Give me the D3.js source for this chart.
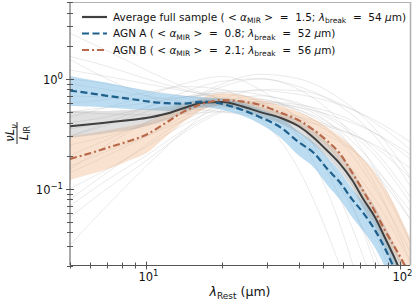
<!DOCTYPE html>
<html><head><meta charset="utf-8">
<script src="https://cdn.jsdelivr.net/npm/d3@7"></script>
<style>
html,body{margin:0;padding:0;background:#fff;}
svg{display:block;font-family:"DejaVu Sans",sans-serif;}
</style></head>
<body>
<svg id="c" width="415" height="302"></svg>
<script>
// ---- data ----
const lam = [5, 6, 7, 8.5, 10, 12, 14, 17, 20, 24, 28, 34, 40, 46, 52, 58, 65, 72, 80, 88, 96, 105, 112];
const avgFull = [0.37,0.385,0.40,0.42,0.44,0.48,0.54,0.61,0.615,0.56,0.50,0.44,0.37,0.29,0.22,0.17,0.12,0.08,0.055,0.035,0.023,0.014,0.010];
const avgLo   = [0.29,0.305,0.32,0.34,0.37,0.42,0.48,0.55,0.56,0.51,0.455,0.39,0.32,0.25,0.19,0.145,0.1,0.066,0.045,0.028,0.018,0.011,0.008];
const avgHi   = [0.51,0.51,0.51,0.52,0.53,0.56,0.60,0.66,0.67,0.62,0.56,0.49,0.42,0.34,0.26,0.205,0.148,0.1,0.069,0.045,0.03,0.018,0.013];
const agnA    = [0.78,0.74,0.70,0.66,0.625,0.60,0.595,0.62,0.59,0.52,0.45,0.36,0.265,0.21,0.15,0.115,0.08,0.06,0.042,0.028,0.018,0.011,0.007];
const agnALo  = [0.57,0.56,0.55,0.53,0.52,0.51,0.52,0.55,0.52,0.46,0.39,0.29,0.20,0.155,0.107,0.08,0.055,0.041,0.029,0.019,0.012,0.0075,0.005];
const agnAHi  = [1.06,0.98,0.92,0.84,0.78,0.73,0.70,0.68,0.66,0.60,0.53,0.44,0.33,0.26,0.19,0.145,0.10,0.075,0.053,0.035,0.023,0.014,0.009];
const agnB    = [0.187,0.21,0.235,0.27,0.31,0.40,0.50,0.60,0.64,0.62,0.58,0.49,0.42,0.34,0.27,0.21,0.14,0.095,0.062,0.041,0.029,0.020,0.015];
const agnBLo  = [0.12,0.135,0.15,0.18,0.21,0.30,0.40,0.53,0.58,0.56,0.52,0.44,0.37,0.30,0.235,0.18,0.122,0.083,0.054,0.036,0.025,0.017,0.013];
const agnBHi  = [0.30,0.32,0.34,0.37,0.40,0.48,0.58,0.69,0.74,0.71,0.65,0.57,0.50,0.43,0.36,0.30,0.24,0.185,0.14,0.10,0.07,0.045,0.033];

// individual sources (faint grey)
const lamInd = [5, 7, 10, 14, 20, 28, 40, 56, 80, 112];
const indiv = [
  [2.6,1.8,1.2,0.85,0.65,0.5,0.33,0.17,0.05,0.01],
  [1.6,1.3,1.0,0.8,0.65,0.52,0.38,0.22,0.08,0.02],
  [1.2,1.05,0.9,0.78,0.68,0.58,0.45,0.3,0.14,0.05],
  [0.031,0.07,0.16,0.33,0.6,0.65,0.5,0.3,0.1,0.025],
  [0.07,0.12,0.2,0.34,0.52,0.6,0.52,0.36,0.16,0.05],
  [0.14,0.2,0.3,0.45,0.62,0.7,0.6,0.42,0.22,0.08],
  [0.2,0.28,0.4,0.58,0.85,1.0,0.8,0.45,0.15,0.03],
  [0.45,0.55,0.7,0.9,1.05,0.8,0.4,0.1,0.012,0.001],
  [0.6,0.65,0.75,0.85,0.8,0.45,0.15,0.025,0.002,0.0001],
  [0.3,0.38,0.5,0.65,0.75,0.62,0.3,0.06,0.004,0.0002],
  [0.25,0.3,0.38,0.48,0.58,0.6,0.55,0.45,0.32,0.2],
  [0.5,0.48,0.47,0.48,0.5,0.48,0.42,0.35,0.25,0.15],
  [0.9,0.8,0.7,0.62,0.58,0.52,0.45,0.36,0.24,0.12],
  [0.35,0.4,0.45,0.52,0.6,0.62,0.58,0.48,0.32,0.18],
  [0.055,0.1,0.18,0.32,0.5,0.58,0.45,0.2,0.04,0.005],
  [0.16,0.22,0.3,0.42,0.55,0.55,0.38,0.14,0.02,0.001],
  [1.5,1.0,0.7,0.55,0.5,0.45,0.38,0.28,0.15,0.06],
  [0.7,0.68,0.66,0.68,0.72,0.66,0.52,0.33,0.13,0.03],
  [0.4,0.45,0.55,0.68,0.78,0.72,0.58,0.4,0.2,0.07],
  [0.1,0.15,0.24,0.38,0.55,0.62,0.55,0.35,0.11,0.02],
  [0.15,0.25,0.4,0.6,0.9,1.1,1.0,0.7,0.35,0.12],
  [0.3,0.4,0.55,0.75,0.95,1.0,0.85,0.6,0.3,0.1],
  [0.5,0.55,0.6,0.68,0.75,0.78,0.72,0.6,0.42,0.26],
  [0.08,0.14,0.25,0.42,0.65,0.8,0.78,0.62,0.4,0.22],
  [1.0,0.9,0.78,0.7,0.62,0.5,0.3,0.12,0.025,0.003]
];

const xTicksMajor = [10, 100];
const xTickLabels = ["1", "2"];       // exponents of 10
const yTicksMajor = [0.1, 1];
const yTickLabels = ["\u22121", "0"];

const legendNames = ["Average full sample", "AGN A", "AGN B"];
const legendAlpha = ["1.5", "0.8", "2.1"];
const legendBreak = ["54", "52", "56"];

// ---- layout ----
const svg = d3.select("#c");
const L = 70, R = 410, T = 2, B = 265.5;
const x = d3.scaleLog().domain([5, 110]).range([L, R]);
const y = d3.scaleLog().domain([0.02, 5]).range([B, T]);

svg.append("defs").append("clipPath").attr("id","clip")
  .append("rect").attr("x",L).attr("y",T).attr("width",R-L).attr("height",B-T);
const g = svg.append("g").attr("clip-path","url(#clip)");

const line = (xs) => d3.line().x((d,i)=>x(xs[i])).y(d=>y(Math.max(d,1e-5))).curve(d3.curveMonotoneX);
const area = (lo, hi) => d3.area().x((d,i)=>x(lam[i])).y0((d,i)=>y(lo[i])).y1((d,i)=>y(hi[i])).curve(d3.curveMonotoneX);

// faint grey individual lines
indiv.forEach(s => {
  g.append("path").attr("d", line(lamInd)(s)).attr("fill","none")
   .attr("stroke","#bcbcbc").attr("stroke-opacity",0.4).attr("stroke-width",0.8);
});

// bands
g.append("path").attr("d", area(agnBLo, agnBHi)(lam)).attr("fill","#f3b98f").attr("fill-opacity",0.42);
g.append("path").attr("d", area(agnALo, agnAHi)(lam)).attr("fill","#78b9e4").attr("fill-opacity",0.5);
g.append("path").attr("d", area(avgLo, avgHi)(lam)).attr("fill","#999").attr("fill-opacity",0.3);

// main lines
g.append("path").attr("d", line(lam)(avgFull)).attr("fill","none")
  .attr("stroke","#3f3f3f").attr("stroke-width",2);
g.append("path").attr("d", line(lam)(agnA)).attr("fill","none")
  .attr("stroke","#1e5f8c").attr("stroke-width",2.2).attr("stroke-dasharray","7,3.5");
g.append("path").attr("d", line(lam)(agnB)).attr("fill","none")
  .attr("stroke","#b8694a").attr("stroke-width",2.2).attr("stroke-dasharray","7,3,2,3");

// ---- axes ----
svg.append("line").attr("x1",L).attr("x2",R+1).attr("y1",T+0.5).attr("y2",T+0.5).attr("stroke","#b3b3b3").attr("stroke-width",1);
svg.append("line").attr("x1",R+0.5).attr("x2",R+0.5).attr("y1",T).attr("y2",B).attr("stroke","#b3b3b3").attr("stroke-width",1.6);

const axColor = "#555";
const yAx = svg.append("g").attr("transform",`translate(${L},0)`);
yAx.append("line").attr("x1",0).attr("x2",0).attr("y1",T).attr("y2",B).attr("stroke",axColor);
const yMinor = y.ticks().filter(v => !yTicksMajor.some(m => Math.abs(m-v)<1e-9));
yMinor.forEach(v => yAx.append("line").attr("x1",-3).attr("x2",3).attr("y1",Math.round(y(v))+0.5).attr("y2",Math.round(y(v))+0.5).attr("stroke",axColor));
yTicksMajor.forEach((v,i) => {
  const yy = Math.round(y(v))+0.5;
  yAx.append("line").attr("x1",-4).attr("x2",4).attr("y1",yy).attr("y2",yy).attr("stroke",axColor);
  const t = yAx.append("text").attr("x",-7).attr("y",yy+4).attr("text-anchor","end")
    .attr("font-size",11.5).attr("fill","#111");
  t.append("tspan").text("10");
  t.append("tspan").attr("dy",-5).attr("font-size",8.5).text(yTickLabels[i]);
});
const xAx = svg.append("g").attr("transform",`translate(0,${B})`);
xAx.append("line").attr("x1",L).attr("x2",R).attr("y1",0).attr("y2",0).attr("stroke",axColor);
const xMinor = x.ticks().filter(v => !xTicksMajor.some(m => Math.abs(m-v)<1e-9));
xMinor.forEach(v => xAx.append("line").attr("x1",Math.round(x(v))+0.5).attr("x2",Math.round(x(v))+0.5).attr("y1",-3).attr("y2",3).attr("stroke",axColor));
xTicksMajor.forEach((v,i) => {
  const xx = Math.round(x(v))+0.5;
  xAx.append("line").attr("x1",xx).attr("x2",xx).attr("y1",-4).attr("y2",4).attr("stroke",axColor);
  const t = xAx.append("text").attr("x",xx+2).attr("y",15).attr("text-anchor","middle")
    .attr("font-size",11.5).attr("fill","#111");
  t.append("tspan").text("10");
  t.append("tspan").attr("dy",-5).attr("font-size",8.5).text(xTickLabels[i]);
});

// axis labels
const xl = svg.append("text").attr("x",240).attr("y",295.5).attr("text-anchor","middle").attr("font-size",12.5).attr("fill","#111");
xl.append("tspan").attr("font-style","italic").text("\u03bb");
xl.append("tspan").attr("dy",3).attr("font-size",9).text("Rest");
xl.append("tspan").attr("dy",-3).text(" (\u03bcm)");

const yl = svg.append("g").attr("transform","translate(17,133) rotate(-90)");
const num = yl.append("text").attr("x",0).attr("y",-3).attr("text-anchor","middle").attr("font-size",11.5).attr("fill","#111");
num.append("tspan").attr("font-style","italic").text("\u03bdL");
num.append("tspan").attr("dy",2.5).attr("font-size",8).attr("font-style","italic").text("\u03bd");
yl.append("line").attr("x1",-11).attr("x2",11).attr("y1",0).attr("y2",0).attr("stroke","#111").attr("stroke-width",0.9);
const den = yl.append("text").attr("x",0).attr("y",10.5).attr("text-anchor","middle").attr("font-size",11.5).attr("fill","#111");
den.append("tspan").attr("font-style","italic").text("L");
den.append("tspan").attr("dy",2.5).attr("font-size",8).text("IR");

// ---- legend ----
const legStyles = [
  {c:"#3f3f3f", d:null},
  {c:"#1e5f8c", d:"7,3.5"},
  {c:"#b8694a", d:"7,3,2,3"}
];
const legY = [17, 33.5, 50];
const S = "\u00a0";
legendNames.forEach((nm,i) => {
  const ly = legY[i];
  const ln = svg.append("line").attr("x1",82).attr("x2",107).attr("y1",ly).attr("y2",ly)
    .attr("stroke",legStyles[i].c).attr("stroke-width",2.2);
  if (legStyles[i].d) ln.attr("stroke-dasharray",legStyles[i].d);
  const t = svg.append("text").attr("x",113).attr("y",ly+3.8).attr("font-size",10.5).attr("fill","#111");
  t.append("tspan").text(nm + S + "(" + S + "<" + S);
  t.append("tspan").attr("font-style","italic").text("\u03b1");
  t.append("tspan").attr("dy",2.5).attr("font-size",7.5).text("MIR");
  t.append("tspan").attr("dy",-2.5).text(S + ">" + S + S + "=" + S + S + legendAlpha[i] + ";" + S);
  t.append("tspan").attr("font-style","italic").text("\u03bb");
  t.append("tspan").attr("dy",2.5).attr("font-size",7.5).text("break");
  t.append("tspan").attr("dy",-2.5).text(S + S + "=" + S + S + legendBreak[i] + S);
  t.append("tspan").attr("font-style","italic").text("\u03bc");
  t.append("tspan").text("m)");
});
</script>
</body></html>
